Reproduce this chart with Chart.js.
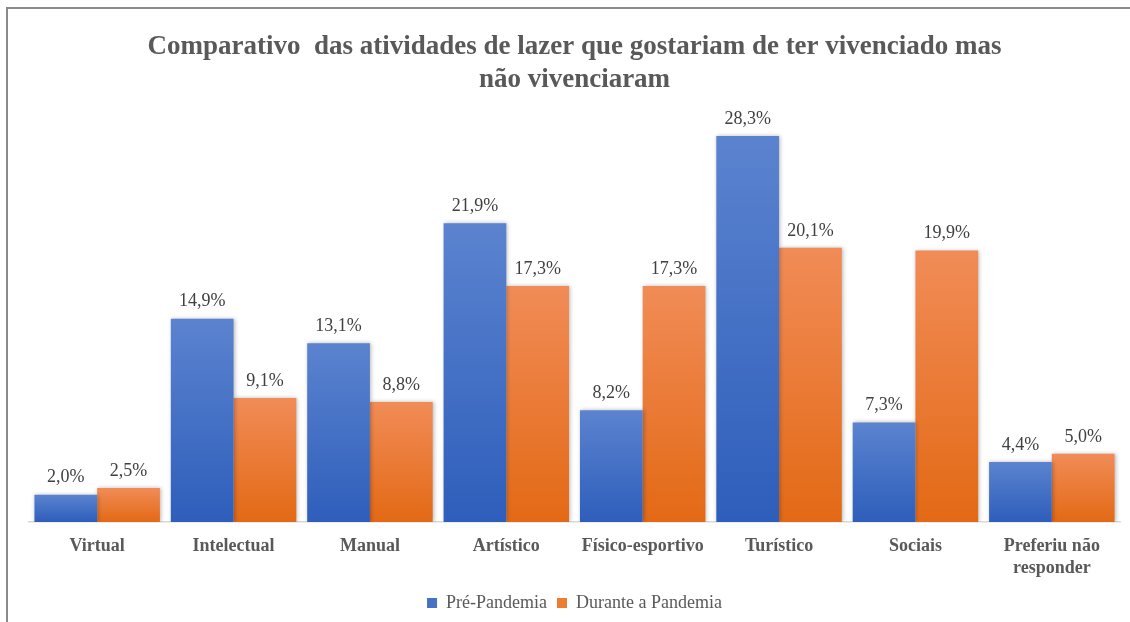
<!DOCTYPE html>
<html>
<head>
<meta charset="utf-8">
<script src="https://cdn.jsdelivr.net/npm/chart.js@4/dist/chart.umd.min.js"></script>
<style>
  html, body { margin: 0; padding: 0; background: #fff; }
  #wrap { position: relative; width: 1130px; height: 622px; }
</style>
</head>
<body>
<div id="wrap"><canvas id="chart"></canvas></div>
<script>
const categories = ["Virtual", "Intelectual", "Manual", "Artístico", "Físico-esportivo", "Turístico", "Sociais", ["Preferiu não", "responder"]];
const seriesNames = ["Pré-Pandemia", "Durante a Pandemia"];
const preValues = [2.0, 14.9, 13.1, 21.9, 8.2, 28.3, 7.3, 4.4];
const duringValues = [2.5, 9.1, 8.8, 17.3, 17.3, 20.1, 19.9, 5.0];
const titleLines = ["Comparativo  das atividades de lazer que gostariam de ter vivenciado mas", "não vivenciaram"];

const SERIF = "'Liberation Serif', 'Times New Roman', serif";

// vertical gradient per bar, like the office fill
function barFill(top, bottom, solid) {
  return (ctx) => {
    const chart = ctx.chart;
    if (ctx.type !== 'data' || !chart.chartArea) return solid;
    const y = chart.scales.y;
    const y0 = y.getPixelForValue(ctx.raw);
    const y1 = y.getPixelForValue(0);
    if (!isFinite(y0) || y1 - y0 < 1) return solid;
    const g = chart.ctx.createLinearGradient(0, y0, 0, y1);
    g.addColorStop(0, top);
    g.addColorStop(1, bottom);
    return g;
  };
}

const frame = {
  id: 'frame',
  beforeDraw(chart) {
    const c = chart.ctx;
    c.save();
    c.strokeStyle = '#8a8a8a';
    c.lineWidth = 2;
    c.beginPath();
    c.moveTo(7, 622);
    c.lineTo(7, 8);
    c.lineTo(1130, 8);
    c.stroke();
    c.restore();
  }
};

const barShadow = {
  id: 'barShadow',
  beforeDatasetsDraw(chart) {
    const c = chart.ctx;
    c.save();
    c.shadowColor = 'rgba(0,0,0,0.28)';
    c.shadowBlur = 4;
    c.shadowOffsetX = 1;
    c.shadowOffsetY = 0;
  },
  afterDatasetsDraw(chart) {
    chart.ctx.restore();
  }
};

const valueLabels = {
  id: 'valueLabels',
  afterDatasetsDraw(chart) {
    const c = chart.ctx;
    c.save();
    c.font = '18px ' + SERIF;
    c.fillStyle = '#404040';
    c.textAlign = 'center';
    c.textBaseline = 'bottom';
    chart.data.datasets.forEach((ds, i) => {
      chart.getDatasetMeta(i).data.forEach((bar, j) => {
        const txt = ds.data[j].toFixed(1).replace('.', ',') + '%';
        c.fillText(txt, bar.x, bar.y - 8);
      });
    });
    c.restore();
  }
};

new Chart(document.getElementById('chart'), {
  type: 'bar',
  data: {
    labels: categories,
    datasets: [
      {
        label: seriesNames[0],
        data: preValues,
        backgroundColor: barFill('#5b83cf', '#2e5ebb', '#4472c4'),
        categoryPercentage: 0.92,
        barPercentage: 1.0
      },
      {
        label: seriesNames[1],
        data: duringValues,
        backgroundColor: barFill('#f18c57', '#e36915', '#ed7d31'),
        categoryPercentage: 0.92,
        barPercentage: 1.0
      }
    ]
  },
  plugins: [frame, barShadow, valueLabels],
  options: {
    responsive: true,
    maintainAspectRatio: false,
    animation: false,
    layout: { padding: { left: 29, right: 10, top: 0, bottom: 0 } },
    plugins: {
      title: {
        display: true,
        text: titleLines,
        color: '#595959',
        font: { family: SERIF, size: 27, weight: 'bold', lineHeight: 1.2 },
        padding: { top: 31, bottom: 17 }
      },
      legend: {
        position: 'bottom',
        labels: {
          color: '#595959',
          font: { family: SERIF, size: 18 },
          boxWidth: 10,
          boxHeight: 10,
          padding: 10,
          generateLabels(chart) {
            const solid = ['#4472c4', '#ed7d31'];
            return chart.data.datasets.map((ds, i) => ({
              text: ds.label,
              fillStyle: solid[i],
              strokeStyle: solid[i],
              lineWidth: 0,
              fontColor: '#595959',
              datasetIndex: i
            }));
          }
        }
      },
      tooltip: { enabled: false }
    },
    scales: {
      x: {
        grid: { display: false },
        border: { display: true, color: '#d9d9d9', width: 1.5 },
        ticks: {
          color: '#595959',
          padding: 6,
          font: { family: SERIF, size: 18, weight: 'bold', lineHeight: 1.2 },
          maxRotation: 0,
          autoSkip: false
        },
        afterFit(scale) { scale.height = 62; }
      },
      y: {
        display: false,
        min: 0,
        max: 30
      }
    }
  }
});
</script>
</body>
</html>
